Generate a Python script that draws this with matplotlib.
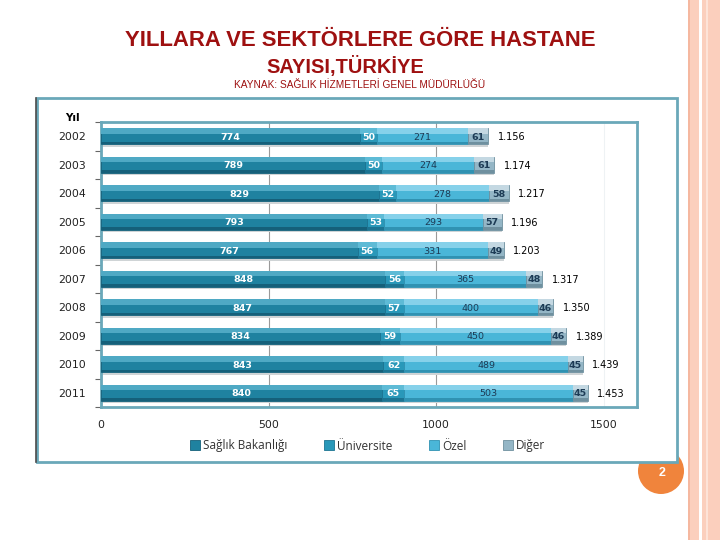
import matplotlib
matplotlib.use("Agg")
import matplotlib.pyplot as plt
from matplotlib.patches import Rectangle, Circle
from matplotlib.lines import Line2D

years = ["2002", "2003", "2004", "2005", "2006", "2007", "2008", "2009", "2010", "2011"]
saglik = [774, 789, 829, 793, 767, 848, 847, 834, 843, 840]
universite = [50, 50, 52, 53, 56, 56, 57, 59, 62, 65]
ozel = [271, 274, 278, 293, 331, 365, 400, 450, 489, 503]
diger = [61, 61, 58, 57, 49, 48, 46, 46, 45, 45]
series_names = ["Sağlık Bakanlığı", "Üniversite", "Özel", "Diğer"]

base_cols = ["#1f82a0", "#2998b9", "#4ab6d8", "#94b6c6"]
light_cols = ["#4fa9c4", "#5ebbd6", "#86d1ea", "#c4d8e2"]
dark_cols = ["#15607a", "#1c7492", "#3092b2", "#6f909f"]
label_cols = ["white", "white", "#1d3b55", "#1d3b55"]
label_weights = ["bold", "bold", "normal", "bold"]

fig = plt.figure(figsize=(7.2, 5.4), dpi=100)
fig.patch.set_facecolor("white")

# slide background in pixel coordinates
bg = fig.add_axes([0, 0, 1, 1], zorder=0)
bg.set_xlim(0, 720)
bg.set_ylim(540, 0)
bg.axis("off")

# right-hand decorative stripes
bg.add_patch(Rectangle((688, 0), 32, 540, facecolor="#fbcfbd", edgecolor="none"))
bg.add_patch(Rectangle((688, 0), 1.5, 540, facecolor="#f5b8a0", edgecolor="none"))
bg.add_patch(Rectangle((699, 0), 2.5, 540, facecolor="white", edgecolor="none"))
bg.add_patch(Rectangle((706, 0), 1.5, 540, facecolor="#fde3d8", edgecolor="none"))

# page number bubble, partly hidden by the chart frame
bg.add_patch(Circle((661, 471), 23, facecolor="#f0843c", edgecolor="none"))
bg.add_patch(Rectangle((37, 98), 640, 364, facecolor="white", edgecolor="#6aa8b9", lw=2))
bg.plot([36, 36], [98, 462], color="#4a4a4a", lw=1.2)
bg.text(662, 473, "2", color="white", fontsize=9, fontweight="bold",
        ha="center", va="center", family="Liberation Sans")

bg.text(360, 40, "YILLARA VE SEKTÖRLERE GÖRE HASTANE", color="#9e1010",
        fontsize=15.9, fontweight="bold", ha="center", va="center", family="Liberation Sans")
bg.text(345, 66, "SAYISI,TÜRKİYE", color="#9e1010",
        fontsize=14.4, fontweight="bold", ha="center", va="center", family="Liberation Sans")
bg.text(360, 85, "KAYNAK: SAĞLIK HİZMETLERİ GENEL MÜDÜRLÜĞÜ", color="#9e1010",
        fontsize=7.3, ha="center", va="center", family="Liberation Sans")
bg.text(72, 118, "Yıl", fontsize=7.5, fontweight="bold", ha="center", va="center")

# chart
ax = fig.add_axes([101 / 720, 1 - 407 / 540, 536 / 720, 285 / 540], zorder=2)
ax.set_facecolor("white")
ypos = list(range(len(years)))
h = 0.56

data = [saglik, universite, ozel, diger]
totals = [sum(v) for v in zip(*data)]
# soft shadow under each bar
ax.barh([y + h / 2 + 0.04 for y in ypos], totals, height=0.08, color="#cfd4d6",
        linewidth=0, zorder=2)

lefts = [0] * len(years)
for k, vals in enumerate(data):
    ax.barh(ypos, vals, left=lefts, height=h, color=base_cols[k],
            edgecolor=dark_cols[k], linewidth=0.6, zorder=3, label=series_names[k])
    # glossy top band and darker bottom band
    ax.barh([y - h / 2 + h * 0.17 for y in ypos], vals, left=lefts, height=h * 0.34,
            color=light_cols[k], linewidth=0, zorder=4)
    ax.barh([y + h / 2 - h * 0.08 for y in ypos], vals, left=lefts, height=h * 0.16,
            color=dark_cols[k], linewidth=0, zorder=4)
    for y, l, v in zip(ypos, lefts, vals):
        ax.text(l + v / 2, y + 0.03, str(v), ha="center", va="center", fontsize=6.8,
                color=label_cols[k], fontweight=label_weights[k], zorder=6)
    lefts = [l + v for l, v in zip(lefts, vals)]

for y, t in zip(ypos, totals):
    ax.text(t + 28, y + 0.03, f"{t:,}".replace(",", "."), ha="left", va="center",
            fontsize=7, color="black", zorder=6)

ax.set_xlim(0, 1600)
ax.set_ylim(len(years) - 0.5, -0.5)
ax.set_xticks([0, 500, 1000, 1500])
ax.set_xticklabels(["0", "500", "1000", "1500"], fontsize=7.8, color="#222222")
ax.set_yticks(ypos)
ax.set_yticklabels(years, fontsize=7.8, color="#222222")
ax.set_yticks([y + 0.5 for y in [-1] + ypos], minor=True)
ax.tick_params(axis="x", length=0, pad=9)
ax.tick_params(axis="y", which="major", length=0, pad=11)
ax.tick_params(axis="y", which="minor", length=4, color="#666666", width=0.8)
ax.grid(axis="x", color="#9a9a9a", lw=0.8, zorder=1)
ax.get_xgridlines()[3].set_color("#eef2f4")
for s in ax.spines.values():
    s.set_color("#6aa8b9")
    s.set_linewidth(2)

handles = [Line2D([], [], marker="s", linestyle="none", markersize=6.5,
                  markerfacecolor=c, markeredgecolor=d, markeredgewidth=0.6)
           for c, d in zip(base_cols, dark_cols)]
leg = fig.legend(handles, series_names, loc="center", bbox_to_anchor=(368 / 720, 1 - 446 / 540),
                 ncol=4, frameon=False, handletextpad=0.3, columnspacing=3.1,
                 handlelength=0.8, prop={"family": "Open Sans", "size": 8.5})
for t in leg.get_texts():
    t.set_color("#333333")

fig.savefig("out.png", dpi=100)
